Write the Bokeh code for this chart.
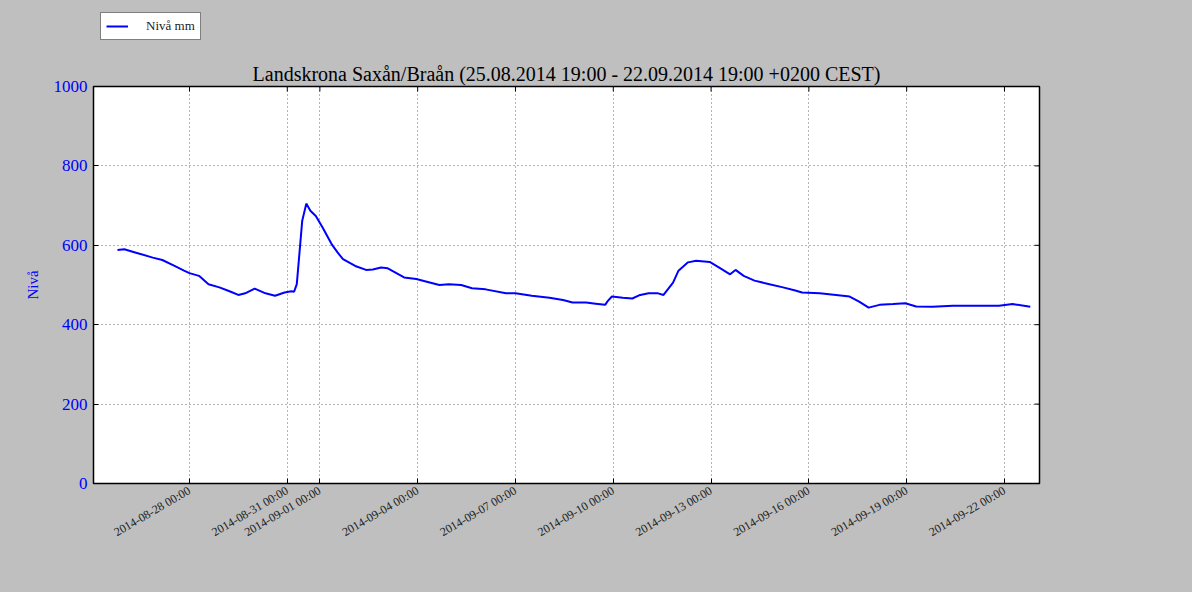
import pandas as pd
from bokeh.plotting import figure
from bokeh.layouts import column
from bokeh.models import (Range1d, FixedTicker, DatetimeTickFormatter, Legend, LegendItem,
                          ColumnDataSource)
from bokeh.embed import file_html
from bokeh.resources import INLINE

# ---- data ----
times = [
    "2014-08-25 19:00", "2014-08-26 00:00", "2014-08-26 08:00", "2014-08-26 21:00",
    "2014-08-27 04:00", "2014-08-27 13:00", "2014-08-27 20:00", "2014-08-28 00:00",
    "2014-08-28 07:00", "2014-08-28 14:00", "2014-08-28 22:00", "2014-08-29 05:00",
    "2014-08-29 12:00", "2014-08-29 17:00", "2014-08-30 00:00", "2014-08-30 08:00",
    "2014-08-30 15:00", "2014-08-30 22:00", "2014-08-31 03:00", "2014-08-31 05:00",
    "2014-08-31 07:00", "2014-08-31 11:00", "2014-08-31 14:00", "2014-08-31 17:00",
    "2014-08-31 21:00", "2014-09-01 02:00", "2014-09-01 09:00", "2014-09-01 13:00",
    "2014-09-01 17:00", "2014-09-02 02:00", "2014-09-02 10:00", "2014-09-02 15:00",
    "2014-09-02 21:00", "2014-09-03 02:00", "2014-09-03 14:00", "2014-09-03 23:00",
    "2014-09-04 06:00", "2014-09-04 16:00", "2014-09-04 23:00", "2014-09-05 08:00",
    "2014-09-05 16:00", "2014-09-06 02:00", "2014-09-06 17:00", "2014-09-07 00:00",
    "2014-09-07 12:00", "2014-09-08 01:00", "2014-09-08 11:00", "2014-09-08 18:00",
    "2014-09-09 04:00", "2014-09-09 11:00", "2014-09-09 18:00", "2014-09-09 20:00",
    "2014-09-09 23:00", "2014-09-10 07:00", "2014-09-10 14:00", "2014-09-10 19:00",
    "2014-09-11 02:00", "2014-09-11 09:00", "2014-09-11 13:00", "2014-09-11 20:00",
    "2014-09-12 00:00", "2014-09-12 07:00", "2014-09-12 13:00", "2014-09-12 23:00",
    "2014-09-13 06:00", "2014-09-13 14:00", "2014-09-13 18:00", "2014-09-14 00:00",
    "2014-09-14 08:00", "2014-09-14 19:00", "2014-09-15 05:00", "2014-09-15 14:00",
    "2014-09-15 19:00", "2014-09-16 08:00", "2014-09-16 20:00", "2014-09-17 06:00",
    "2014-09-17 13:00", "2014-09-17 20:00", "2014-09-18 04:00", "2014-09-18 14:00",
    "2014-09-18 23:00", "2014-09-19 07:00", "2014-09-19 19:00", "2014-09-20 10:00",
    "2014-09-21 03:00", "2014-09-21 20:00", "2014-09-22 06:00", "2014-09-22 19:00",
]
niva = [
    588, 590, 582, 569,
    563, 548, 536, 530,
    523, 502, 494, 485,
    475, 479, 491, 479,
    473, 481, 484, 483,
    502, 662, 705, 687,
    674, 645, 601, 582,
    565, 548, 538, 539,
    544, 542, 519, 515,
    509, 500, 502, 500,
    492, 489, 479, 479,
    473, 468, 462, 456,
    456, 453, 450, 460,
    471, 468, 466, 474,
    479, 479, 475, 506,
    536, 557, 561, 558,
    544, 527, 538, 523,
    511, 502, 494, 486,
    481, 479, 475, 471,
    458, 443, 450, 452,
    454, 446, 445, 448,
    448, 448, 452, 445,
]
tick_dates = [
    "2014-08-28 00:00", "2014-08-31 00:00", "2014-09-01 00:00", "2014-09-04 00:00",
    "2014-09-07 00:00", "2014-09-10 00:00", "2014-09-13 00:00", "2014-09-16 00:00",
    "2014-09-19 00:00", "2014-09-22 00:00",
]
y_ticks = [0, 200, 400, 600, 800, 1000]
series_label = "Nivå mm"
y_label = "Nivå"
title_text = "Landskrona Saxån/Braån (25.08.2014 19:00 - 22.09.2014 19:00 +0200 CEST)"

EPOCH = pd.Timestamp("1970-01-01")


def to_ms(s):
    return (pd.Timestamp(s) - EPOCH).total_seconds() * 1000.0


SERIF = "Liberation Serif"
GRAY = "#bfbfbf"
LINE_COLOR = "#0000ff"

x_start = pd.Timestamp("2014-08-25 01:20")
x_end = pd.Timestamp("2014-09-23 01:47")
Y_MIN, Y_MAX = 0, 1000
FRAME_W, FRAME_H = 946, 397
TICK_PX = 5
W = 1192
LEGEND_STRIP_H = 50

src = ColumnDataSource(dict(t=pd.to_datetime(times), v=niva))

# ---------------- legend strip (sits above the plot, outside its frame) ----------------
top = figure(width=W, height=LEGEND_STRIP_H, output_backend="svg", toolbar_location=None,
             x_axis_location=None, y_axis_location=None,
             x_range=Range1d(0, 1), y_range=Range1d(0, 1),
             min_border=0, min_border_left=0, min_border_right=0,
             min_border_top=0, min_border_bottom=0)
top.border_fill_color = None
top.background_fill_color = None
top.outline_line_color = None
top.grid.visible = False
# same series, only used as the legend's sample (it lies outside this strip's ranges)
legend_proxy = top.line("t", "v", source=src, line_color=LINE_COLOR, line_width=2)
legend = Legend(items=[LegendItem(label=series_label, renderers=[legend_proxy])],
                location=(7, 10), margin=0, padding=5,
                glyph_width=22, glyph_height=14, label_height=14, label_standoff=18,
                label_text_font=SERIF, label_text_font_size="13px", label_text_color="#222222",
                border_line_color="black", border_line_width=1.5,
                background_fill_color="white", background_fill_alpha=1.0)
top.add_layout(legend)

# ---------------- main plot ----------------
p = figure(width=W, height=592 - LEGEND_STRIP_H, x_axis_type="datetime",
           output_backend="svg", toolbar_location=None,
           x_range=Range1d(x_start, x_end), y_range=Range1d(Y_MIN, Y_MAX),
           min_border_left=93, min_border_right=153, min_border_top=36, min_border_bottom=109)

p.border_fill_color = GRAY
p.background_fill_color = "white"
p.outline_line_color = "black"
p.outline_line_width = 1.5

p.title.text = title_text
p.title.text_font = SERIF
p.title.text_font_size = "20px"
p.title.text_font_style = "normal"
p.title.text_color = "black"
p.title.align = "center"
p.title.standoff = 4

r = p.line("t", "v", source=src, line_color=LINE_COLOR, line_width=2)

fmt = "%Y-%m-%d %H:%M"
xtick_ms = [to_ms(d) for d in tick_dates]

xa = p.xaxis[0]
xa.ticker = FixedTicker(ticks=xtick_ms)
xa.formatter = DatetimeTickFormatter(microseconds=fmt, milliseconds=fmt, seconds=fmt, minsec=fmt,
                                     minutes=fmt, hourmin=fmt, hours=fmt, days=fmt,
                                     months=fmt, years=fmt)
xa.major_label_orientation = 0.53
xa.major_label_text_font = SERIF
xa.major_label_text_font_size = "12px"
xa.major_label_text_color = "#222222"
xa.major_label_standoff = 6

ya = p.yaxis[0]
ya.ticker = FixedTicker(ticks=y_ticks)
ya.major_label_text_font = SERIF
ya.major_label_text_font_size = "17px"
ya.major_label_text_color = "#0000ff"
ya.major_label_standoff = 6
ya.axis_label = y_label
ya.axis_label_text_font = SERIF
ya.axis_label_text_font_size = "15px"
ya.axis_label_text_font_style = "normal"
ya.axis_label_text_color = "#0000ff"
ya.axis_label_standoff = 10

for ax in (xa, ya):
    ax.axis_line_color = None
    ax.major_tick_in = TICK_PX
    ax.major_tick_out = 0
    ax.major_tick_line_color = "black"
    ax.major_tick_line_width = 1
    ax.minor_tick_line_color = None

# inward tick marks on the top and right edges, at the same tick values
y_per_px = (Y_MAX - Y_MIN) / FRAME_H
ms_per_px = (to_ms(x_end) - to_ms(x_start)) / FRAME_W
top_ticks = ColumnDataSource(dict(x=pd.to_datetime(tick_dates),
                                  y0=[Y_MAX] * len(tick_dates),
                                  y1=[Y_MAX - TICK_PX * y_per_px] * len(tick_dates)))
p.segment(x0="x", y0="y0", x1="x", y1="y1", source=top_ticks, line_color="black", line_width=1)
right_ticks = ColumnDataSource(dict(x0=[x_end] * len(y_ticks),
                                    x1=[x_end - pd.Timedelta(milliseconds=TICK_PX * ms_per_px)] * len(y_ticks),
                                    y=y_ticks))
p.segment(x0="x0", y0="y", x1="x1", y1="y", source=right_ticks, line_color="black", line_width=1)

for g in (p.xgrid[0], p.ygrid[0]):
    g.grid_line_color = "#444444"
    g.grid_line_dash = "1 3"
    g.grid_line_width = 1
    g.grid_line_alpha = 0.8

layout = column(top, p, spacing=0, styles={"background-color": GRAY})
open("out.html", "w").write(file_html(layout, INLINE))
